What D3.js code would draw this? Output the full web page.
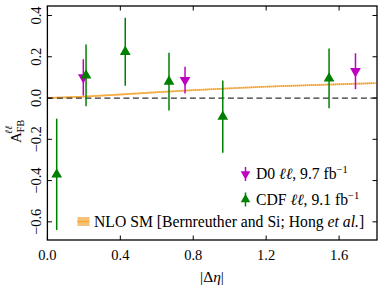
<!DOCTYPE html>
<html><head><meta charset="utf-8">
<script src="https://cdn.jsdelivr.net/npm/d3@7"></script>
<style>body{margin:0;background:#fff}svg{display:block}</style>
</head><body><svg id="c" width="382" height="287" font-family="'Liberation Serif','DejaVu Serif',serif"></svg>
<script>
const xTicks = [0.0, 0.4, 0.8, 1.2, 1.6];
const yTicks = [-0.6, -0.4, -0.2, 0.0, 0.2, 0.4];
const cdfX = [0.051, 0.212, 0.427, 0.667, 0.962, 1.545];
const cdfY = [-0.37, 0.11, 0.224, 0.08, -0.09, 0.095];
const cdfErr = [0.27, 0.15, 0.165, 0.14, 0.175, 0.145];
const d0X = [0.197, 0.755, 1.69];
const d0Y = [0.10, 0.087, 0.13];
const d0Err = [0.088, 0.065, 0.087];
const nloX = [0, 0.2, 0.4, 0.6, 0.8, 1.0, 1.2, 1.4, 1.6, 1.8];
const nloY = [0, 0.007, 0.017, 0.028, 0.038, 0.047, 0.055, 0.061, 0.067, 0.072];
const nloBand = 0.0045;

const svg = d3.select("#c");
const FF = "'Liberation Serif','DejaVu Serif',serif";
const L = 47.4, R = 377, T = 6, B = 240;
const x = d3.scaleLinear().domain([0, 1.808]).range([L, R]);
const y = d3.scaleLinear().domain([-0.688, 0.446]).range([B, T]);
const green = "#008000", mag = "#c000c0", orange = "#ff9900";

const nlo = nloX.map((v,i)=>({x:v,y:nloY[i]}));
svg.append("path").datum(nlo)
  .attr("d", d3.area().x(d=>x(d.x)).y0(d=>y(d.y-nloBand)).y1(d=>y(d.y+nloBand)))
  .attr("fill", "#f6c27a").attr("opacity",0.85);
svg.append("path").datum(nlo)
  .attr("d", d3.line().x(d=>x(d.x)).y(d=>y(d.y)))
  .attr("fill","none").attr("stroke", orange).attr("stroke-width",1.6).attr("stroke-dasharray","1.2,0.8");

svg.append("line").attr("x1",L).attr("x2",R).attr("y1",y(0)).attr("y2",y(0))
  .attr("stroke","#333").attr("stroke-width",1.2).attr("stroke-dasharray","6,3.5");

const tri = d3.symbol().type(d3.symbolTriangle).size(50);
function series(xs, ys, es, color, down){
  const g = svg.append("g");
  xs.forEach((xv,i)=>{
    g.append("line").attr("x1",x(xv)).attr("x2",x(xv))
      .attr("y1",y(ys[i]-es[i])).attr("y2",y(ys[i]+es[i]))
      .attr("stroke",color).attr("stroke-width",1.5);
    g.append("path").attr("d",tri())
      .attr("transform",`translate(${x(xv)},${y(ys[i])})${down?" rotate(180)":""}`)
      .attr("fill",color);
  });
}
series(d0X, d0Y, d0Err, mag, true);
series(cdfX, cdfY, cdfErr, green, false);

svg.append("rect").attr("x",L).attr("y",T).attr("width",R-L).attr("height",B-T)
  .attr("fill","none").attr("stroke","#000").attr("stroke-width",1.3);
const tl = 4.5;
xTicks.forEach(t=>{
  svg.append("line").attr("x1",x(t)).attr("x2",x(t)).attr("y1",B).attr("y2",B-tl).attr("stroke","#000");
  svg.append("line").attr("x1",x(t)).attr("x2",x(t)).attr("y1",T).attr("y2",T+tl).attr("stroke","#000");
  svg.append("text").attr("x",x(t)).attr("y",B+20).attr("text-anchor","middle")
    .attr("font-family",FF).attr("font-size",14.5).text(d3.format(".1f")(t));
});
yTicks.forEach(t=>{
  svg.append("line").attr("x1",L).attr("x2",L+tl).attr("y1",y(t)).attr("y2",y(t)).attr("stroke","#000");
  svg.append("line").attr("x1",R).attr("x2",R-tl).attr("y1",y(t)).attr("y2",y(t)).attr("stroke","#000");
  svg.append("text").attr("transform",`translate(${L-6},${y(t)}) rotate(-90)`)
    .attr("text-anchor","middle").attr("font-family",FF).attr("font-size",14.5)
    .text(d3.format(".1f")(t).replace("-","\u2212"));
});

const xl = svg.append("text").attr("x",212).attr("y",282).attr("text-anchor","middle").attr("font-family",FF).attr("font-size",15.5);
xl.append("tspan").text("|Δ");
xl.append("tspan").attr("font-style","italic").text("η");
xl.append("tspan").text("|");
const yl = svg.append("text").attr("transform",`translate(20.5,143) rotate(-90)`).attr("font-family",FF).attr("font-size",15).attr("text-anchor","start");
yl.append("tspan").text("A");
yl.append("tspan").attr("font-size",10).attr("dy",3).text("FB");
yl.append("tspan").attr("font-size",10).attr("font-style","italic").attr("dx",-14).attr("dy",-12).text("ℓℓ");

function legMark(cx, cy, color, down){
  svg.append("line").attr("x1",cx).attr("x2",cx).attr("y1",cy-7).attr("y2",cy+7).attr("stroke",color).attr("stroke-width",1.5);
  svg.append("path").attr("d",d3.symbol().type(d3.symbolTriangle).size(40)())
    .attr("transform",`translate(${cx},${cy})${down?" rotate(180)":""}`).attr("fill",color);
}
legMark(245.5, 174, mag, true);
legMark(245.5, 199.5, green, false);
function legText(xp, yp, parts){
  const t = svg.append("text").attr("x",xp).attr("y",yp).attr("font-family",FF).attr("font-size",15.7);
  parts.forEach(p=>{
    const s = t.append("tspan").text(p[0]);
    if(p[1]==="i") s.attr("font-style","italic");
    if(p[1]==="sup") s.attr("font-size",10.5).attr("dy",-6);
  });
}
legText(256, 179, [["D0 "],["ℓℓ","i"],[", 9.7 fb"],["−1","sup"]]);
legText(256, 205, [["CDF "],["ℓℓ","i"],[", 9.1 fb"],["−1","sup"]]);
svg.append("rect").attr("x",77.5).attr("y",217).attr("width",12).attr("height",9).attr("fill","#f6c27a");
svg.append("line").attr("x1",77.5).attr("x2",89.5).attr("y1",221.5).attr("y2",221.5).attr("stroke",orange).attr("stroke-width",1.3).attr("stroke-dasharray","1.2,0.8");
legText(94, 226.5, [["NLO SM [Bernreuther and Si; Hong "],["et al.","i"],["]"]]);
</script></body></html>
